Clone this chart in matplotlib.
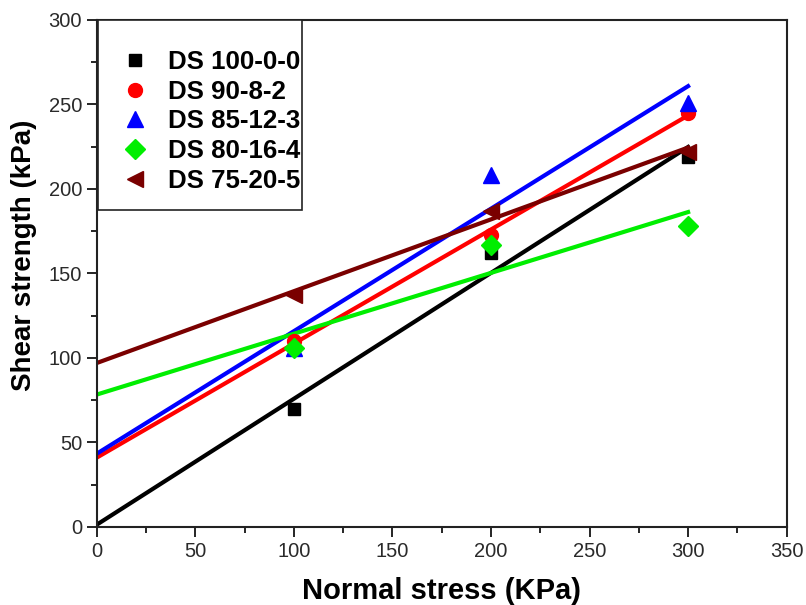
import matplotlib
matplotlib.use('Agg')
import matplotlib.pyplot as plt
import numpy as np
from matplotlib.ticker import MultipleLocator
from matplotlib.patches import Rectangle

plt.rcParams['font.family'] = ['Liberation Sans', 'DejaVu Sans']

# Normal stress (KPa) and measured shear strength (kPa) per mix
normal_stress = [100, 200, 300]
labels = ['DS 100-0-0', 'DS 90-8-2', 'DS 85-12-3', 'DS 80-16-4', 'DS 75-20-5']
shear_100_0_0 = [70, 162, 219]
shear_90_8_2 = [110, 173, 245]
shear_85_12_3 = [106, 208, 251]
shear_80_16_4 = [106, 167, 178]
shear_75_20_5 = [137, 187, 222]

series = [shear_100_0_0, shear_90_8_2, shear_85_12_3, shear_80_16_4, shear_75_20_5]
colors = ['black', 'red', 'blue', '#00ee00', '#7a0000']
markers = ['s', 'o', '^', 'D', '<']
msizes = [9, 10, 12, 10, 12]

fig = plt.figure(figsize=(8.06, 6.05), dpi=100)
ax = fig.add_axes([0.120, 0.129, 0.856, 0.838])

# linear fit of each series, drawn from 0 to 300
x_fit = np.array([0, 300])
for y, c, m, ms, lab in zip(series, colors, markers, msizes, labels):
    slope, icpt = np.polyfit(normal_stress, y, 1)
    ax.plot(x_fit, slope * x_fit + icpt, color=c, linewidth=3, zorder=2)
    ax.plot(normal_stress, y, linestyle='none', marker=m, color=c,
            markersize=ms, label=lab, zorder=3)

ax.set_xlim(0, 350)
ax.set_ylim(0, 300)
ax.xaxis.set_major_locator(MultipleLocator(50))
ax.xaxis.set_minor_locator(MultipleLocator(25))
ax.yaxis.set_major_locator(MultipleLocator(50))
ax.yaxis.set_minor_locator(MultipleLocator(25))
ax.tick_params(which='major', direction='out', length=7, width=1.2,
               labelsize=14.5, labelcolor='#2a2a2a')
ax.tick_params(which='minor', direction='out', length=4, width=1.2)
for s in ax.spines.values():
    s.set_linewidth(1.5)
    s.set_color('#222222')

ax.set_xlabel('Normal stress (KPa)', fontsize=21, fontweight='bold')
ax.xaxis.set_label_coords(0.5, -0.099)
ax.set_ylabel('Shear strength (kPa)', fontsize=20, fontweight='bold')
ax.yaxis.set_label_coords(-0.087, 0.535)

# legend frame drawn separately so it can hug the axes corner
ax.add_patch(Rectangle((0.0015, 0.625), 0.2955, 0.375, transform=ax.transAxes,
                       fill=True, facecolor='white', edgecolor='#222222',
                       linewidth=1.2, zorder=4))
leg = ax.legend(loc='upper left', bbox_to_anchor=(0.0364, 0.941),
                prop={'weight': 'bold', 'size': 18.6}, frameon=False,
                borderpad=0, borderaxespad=0, handletextpad=0.78,
                labelspacing=0.22, handlelength=1.0)
leg.set_zorder(5)

fig.savefig('out.png', dpi=100)
